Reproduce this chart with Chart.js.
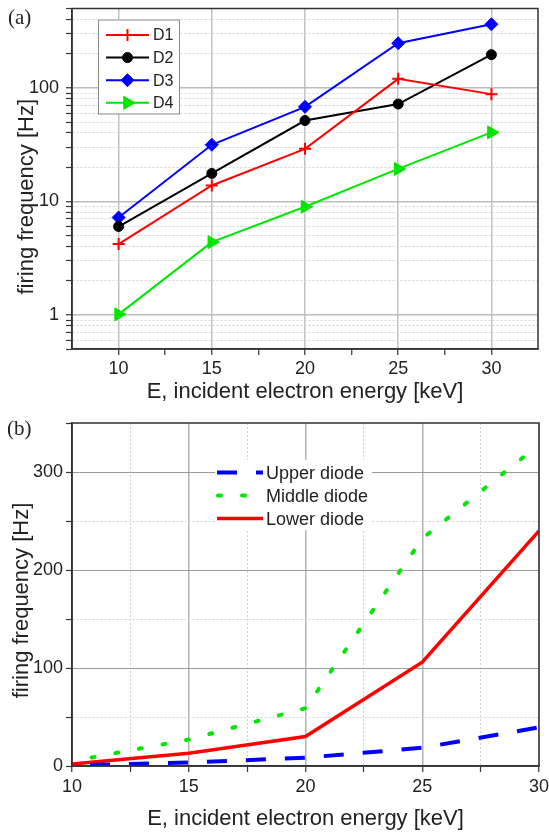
<!DOCTYPE html>
<html><head><meta charset="utf-8">
<script src="https://cdn.jsdelivr.net/npm/chart.js@4/dist/chart.umd.min.js"></script>
<style>
html,body{margin:0;padding:0;background:#fff;}
#wrap{position:relative;width:549px;height:834px;overflow:hidden;background:#fff;}
#ca{position:absolute;left:0;top:0;width:549px;height:405px;}
#cb{position:absolute;left:0;top:405px;width:549px;height:429px;}
.lab{position:absolute;font-family:"Liberation Serif","DejaVu Serif",serif;font-size:21px;line-height:21px;color:#222;}
</style></head>
<body><div id="wrap">
<canvas id="ca" width="549" height="405"></canvas>
<canvas id="cb" width="549" height="429"></canvas>
<div class="lab" style="left:8px;top:7px">(a)</div>
<div class="lab" style="left:7px;top:418px">(b)</div>
</div>
<script>
// ---------- data (a) ----------
const energyA = [10, 15, 20, 25, 30];
const seriesNamesA = ['D1', 'D2', 'D3', 'D4'];
const d1 = [4.2, 13.8, 29, 120, 88];
const d2 = [6.0, 17.6, 51.5, 72, 196];
const d3 = [7.2, 31.5, 68, 247, 363];
const d4 = [1.01, 4.37, 8.95, 19.3, 40.5];
const yLabelsA = [1, 10, 100];
// ---------- data (b) ----------
const energyB = [10, 15, 20, 25, 30];
const seriesNamesB = ['Upper diode', 'Middle diode', 'Lower diode'];
const upper = [0.5, 3.5, 8.5, 18.6, 39.4];
const middle = [5, 27, 59, 232, 328];
const lower = [2, 13, 30, 106, 240];
const yLabelsB = [0, 100, 200, 300];
const yMinorB = [50, 150, 250, 350];
// ---------- shared ticks / titles ----------
const xMajor = [10, 15, 20, 25, 30];
const xMinor = [12.5, 17.5, 22.5, 27.5];
const xTitle = 'E, incident electron energy [keV]';
const yTitleText = 'firing frequency [Hz]';

Chart.defaults.font.family = '"Liberation Sans", Arial, sans-serif';
Chart.defaults.color = '#222';

const xTickVals = xMajor.concat(xMinor).sort((a, b) => a - b);
function isDecade(v) { const l = Math.log10(v); return Math.abs(l - Math.round(l)) < 1e-9; }
const logTicks = [];
[0.1, 1, 10, 100].forEach(d => { for (let m = 1; m <= 9; m++) { const v = +(m * d).toPrecision(6); if (v >= 0.5 && v <= 500) logTicks.push(v); } });
const yTickValsB = yLabelsB.concat(yMinorB).sort((a, b) => a - b);

const frame = {
  id: 'frame',
  afterDraw(chart) {
    const a = chart.chartArea, ctx = chart.ctx;
    ctx.save();
    ctx.strokeStyle = '#333'; ctx.lineWidth = 1.5; ctx.setLineDash([]);
    ctx.strokeRect(a.left, a.top, a.right - a.left, a.bottom - a.top);
    ctx.restore();
  }
};

const yTitle = {
  id: 'yTitle',
  afterDraw(chart, args, o) {
    const ctx = chart.ctx, a = chart.chartArea;
    ctx.save();
    ctx.translate(o.x, (a.top + a.bottom) / 2 + o.dy);
    ctx.rotate(-Math.PI / 2);
    ctx.font = '22px "Liberation Sans", Arial, sans-serif';
    ctx.fillStyle = '#222'; ctx.textAlign = 'center'; ctx.textBaseline = 'middle';
    ctx.fillText(o.text, 0, 0);
    ctx.restore();
  }
};

const boxLegend = {
  id: 'boxLegend',
  afterDraw(chart, args, o) {
    const ctx = chart.ctx, a = chart.chartArea;
    const x0 = a.left + o.x, y0 = a.top + o.y;
    ctx.save();
    ctx.fillStyle = '#fff';
    ctx.fillRect(x0, y0, o.w, o.h);
    if (o.border) { ctx.strokeStyle = o.border; ctx.lineWidth = 1; ctx.strokeRect(x0 + 0.5, y0 + 0.5, o.w, o.h); }
    chart.data.datasets.forEach((ds, i) => {
      const yy = y0 + o.first + i * o.gap;
      const sx = x0 + o.sx;
      ctx.strokeStyle = ds.borderColor;
      ctx.lineWidth = ds.borderWidth;
      ctx.setLineDash(ds.borderDash || []);
      ctx.lineDashOffset = o.dashOffset ? (o.dashOffset[i] || 0) : 0;
      ctx.lineCap = ds.borderCapStyle || 'butt';
      ctx.beginPath(); ctx.moveTo(sx, yy); ctx.lineTo(sx + o.len, yy); ctx.stroke();
      ctx.setLineDash([]); ctx.lineCap = 'butt';
      if (ds.pointRadius > 0) {
        ctx.fillStyle = ds.pointBackgroundColor || ds.borderColor;
        ctx.strokeStyle = ds.pointBorderColor || ds.borderColor;
        ctx.lineWidth = ds.pointBorderWidth || 1;
        Chart.helpers.drawPoint(ctx, { pointStyle: ds.pointStyle, rotation: ds.pointRotation || 0, radius: ds.pointRadius, borderWidth: ds.pointBorderWidth || 1 }, sx + o.len / 2, yy);
      }
      ctx.fillStyle = '#222';
      ctx.font = o.fontSize + 'px "Liberation Sans", Arial, sans-serif';
      ctx.textBaseline = 'middle'; ctx.textAlign = 'left';
      ctx.fillText(ds.label, x0 + o.tx, yy + 1);
    });
    ctx.restore();
  }
};

const GREEN = '#00e600';

// ---------- chart (a) ----------
new Chart(document.getElementById('ca'), {
  type: 'line',
  data: {
    datasets: [
      { label: seriesNamesA[0], data: energyA.map((x, i) => ({ x, y: d1[i] })), borderColor: '#ff0000', borderWidth: 2, pointStyle: 'cross', pointRadius: 6, pointBorderWidth: 2, pointBorderColor: '#ff0000', pointBackgroundColor: '#ff0000' },
      { label: seriesNamesA[1], data: energyA.map((x, i) => ({ x, y: d2[i] })), borderColor: '#000000', borderWidth: 2, pointStyle: 'circle', pointRadius: 5, pointBorderWidth: 1, pointBorderColor: '#000', pointBackgroundColor: '#000' },
      { label: seriesNamesA[2], data: energyA.map((x, i) => ({ x, y: d3[i] })), borderColor: '#0000ff', borderWidth: 2, pointStyle: 'rectRot', pointRadius: 6.5, pointBorderWidth: 1, pointBorderColor: '#0000ff', pointBackgroundColor: '#0000ff' },
      { label: seriesNamesA[3], data: energyA.map((x, i) => ({ x, y: d4[i] })), borderColor: GREEN, borderWidth: 2, pointStyle: 'triangle', pointRotation: 90, pointRadius: 7.5, pointBorderWidth: 1, pointBorderColor: GREEN, pointBackgroundColor: GREEN }
    ]
  },
  options: {
    responsive: false, animation: false, events: [],
    layout: { padding: { left: 0, right: 11, top: 5, bottom: 0 } },
    plugins: {
      legend: { display: false }, tooltip: { enabled: false },
      boxLegend: { x: 26, y: 11, w: 81, h: 94, border: '#8a8a8a', first: 15.5, gap: 22.6, sx: 8, len: 43, tx: 55, fontSize: 16 },
      yTitle: { text: yTitleText, x: 27, dy: 18 }
    },
    scales: {
      x: {
        type: 'linear', min: 7.5, max: 32.5,
        afterBuildTicks: s => { s.ticks = xTickVals.map(v => ({ value: v })); },
        afterFit: s => { s.height = 56; s.paddingLeft = 0; s.paddingRight = 0; },
        ticks: { autoSkip: false, maxRotation: 0, font: { size: 18 }, color: '#222', padding: 3, callback: v => xMajor.includes(v) ? String(v) : '' },
        grid: { color: c => (c.tick && xMajor.includes(c.tick.value)) ? '#c2c2c2' : 'rgba(0,0,0,0)', lineWidth: 1.5, tickColor: '#333', tickLength: 6, tickWidth: 1.2 },
        border: { color: '#333', width: 1.5 },
        title: { display: true, text: xTitle, font: { size: 22 }, color: '#222', padding: { top: 0, bottom: 0 } }
      },
      y: {
        type: 'logarithmic', min: 0.5, max: 500,
        afterBuildTicks: s => { s.ticks = logTicks.map(v => ({ value: v })); },
        afterFit: s => { s.width = 72; s.paddingTop = 0; s.paddingBottom = 0; },
        ticks: { autoSkip: false, font: { size: 18 }, color: '#222', padding: 7, callback: v => yLabelsA.includes(v) ? String(v) : '' },
        grid: { color: c => (c.tick && isDecade(c.tick.value)) ? '#bcbcbc' : '#d4d4d4', lineWidth: c => (c.tick && isDecade(c.tick.value)) ? 1.5 : 1, tickColor: '#333', tickLength: 6, tickWidth: 1.2 },
        border: { color: '#333', width: 1.5, dash: c => (c.tick && !isDecade(c.tick.value)) ? [2, 2] : [] },
        title: { display: false }
      }
    }
  },
  plugins: [frame, boxLegend, yTitle]
});

// ---------- chart (b) ----------
new Chart(document.getElementById('cb'), {
  type: 'line',
  data: {
    datasets: [
      { label: seriesNamesB[0], data: energyB.map((x, i) => ({ x, y: upper[i] })), borderColor: '#0000ff', borderWidth: 4, borderDash: [20, 19], borderDashOffset: 21, pointRadius: 0 },
      { label: seriesNamesB[1], data: energyB.map((x, i) => ({ x, y: middle[i] })), borderColor: GREEN, borderWidth: 4, borderDash: [3, 21], borderDashOffset: 4, borderCapStyle: 'round', pointRadius: 0 },
      { label: seriesNamesB[2], data: energyB.map((x, i) => ({ x, y: lower[i] })), borderColor: '#ff0000', borderWidth: 3.5, pointRadius: 0 }
    ]
  },
  options: {
    responsive: false, animation: false, events: [],
    layout: { padding: { left: 0, right: 10, top: 18, bottom: 0 } },
    plugins: {
      legend: { display: false }, tooltip: { enabled: false },
      boxLegend: { x: 143, y: 37, w: 157, h: 70, border: null, first: 12.6, gap: 23, sx: 2, len: 46, tx: 51, fontSize: 18, dashOffset: [0, -1, 0] },
      yTitle: { text: yTitleText, x: 22, dy: 6 }
    },
    scales: {
      x: {
        type: 'linear', min: 10, max: 30,
        afterBuildTicks: s => { s.ticks = xTickVals.map(v => ({ value: v })); },
        afterFit: s => { s.height = 68; s.paddingLeft = 0; s.paddingRight = 0; },
        ticks: { autoSkip: false, maxRotation: 0, font: { size: 18 }, color: '#222', padding: 4, callback: v => xMajor.includes(v) ? String(v) : '' },
        grid: { color: c => (c.tick && xMajor.includes(c.tick.value)) ? '#b4b4b4' : '#d4d4d4', lineWidth: c => (c.tick && xMajor.includes(c.tick.value)) ? 1.5 : 1, tickColor: '#333', tickLength: 6, tickWidth: 1.2 },
        border: { color: '#333', width: 1.5, dash: c => (c.tick && !xMajor.includes(c.tick.value)) ? [2, 2] : [] },
        title: { display: true, text: xTitle, font: { size: 22 }, color: '#222', padding: { top: 0, bottom: 2 } }
      },
      y: {
        type: 'linear', min: 0, max: 350,
        afterBuildTicks: s => { s.ticks = yTickValsB.map(v => ({ value: v })); },
        afterFit: s => { s.width = 72; s.paddingTop = 0; s.paddingBottom = 0; },
        ticks: { autoSkip: false, font: { size: 18 }, color: '#222', padding: 3, callback: v => yLabelsB.includes(v) ? String(v) : '' },
        grid: { color: c => (c.tick && yLabelsB.includes(c.tick.value)) ? '#9a9a9a' : '#d4d4d4', lineWidth: 1, tickColor: '#333', tickLength: 6, tickWidth: 1.2 },
        border: { color: '#333', width: 1.5, dash: c => (c.tick && !yLabelsB.includes(c.tick.value)) ? [2, 2] : [] },
        title: { display: false }
      }
    }
  },
  plugins: [frame, boxLegend, yTitle]
});
</script>
</body></html>
